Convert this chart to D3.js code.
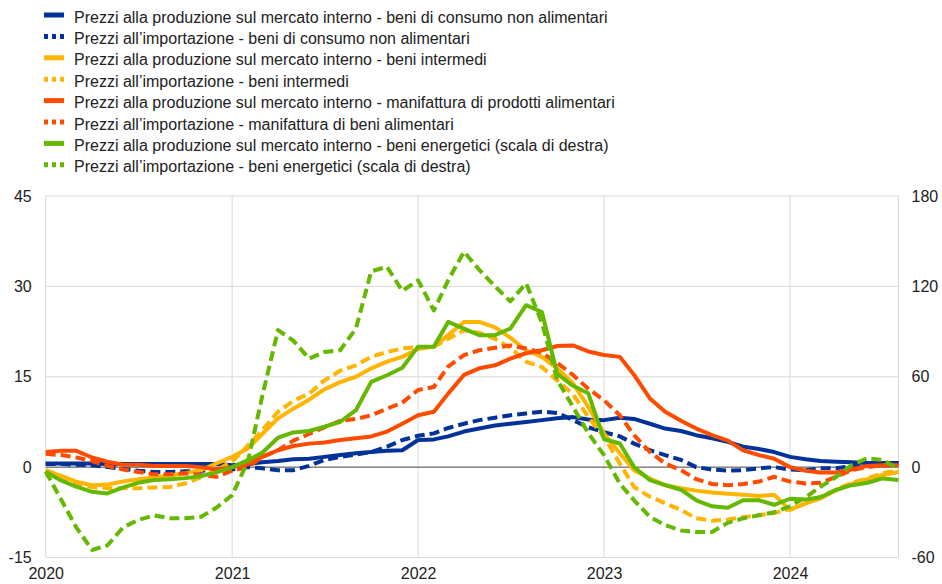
<!DOCTYPE html>
<html>
<head>
<meta charset="utf-8">
<script src="https://cdn.jsdelivr.net/npm/d3@7"></script>
<style>
body { margin: 0; background: #fff; }
text { font-family: Arial, "Liberation Sans", sans-serif; fill: #222; }
</style>
</head>
<body>
<svg id="chart" width="942" height="584"></svg>
<script>
// monthly, Jan 2020 - Aug 2024
var months = d3.timeMonth.range(new Date(2020, 0, 1), new Date(2024, 8, 1));
var yearLabels = ["2020", "2021", "2022", "2023", "2024"];
var leftTicks = [-15, 0, 15, 30, 45];
var rightTicks = [-60, 0, 60, 120, 180];

var labels = [
    "Prezzi alla produzione sul mercato interno - beni di consumo non alimentari",
    "Prezzi all\u2019importazione - beni di consumo non alimentari",
    "Prezzi alla produzione sul mercato interno - beni intermedi",
    "Prezzi all\u2019importazione - beni intermedi",
    "Prezzi alla produzione sul mercato interno - manifattura di prodotti alimentari",
    "Prezzi all\u2019importazione - manifattura di beni alimentari",
    "Prezzi alla produzione sul mercato interno - beni energetici (scala di destra)",
    "Prezzi all\u2019importazione - beni energetici (scala di destra)"
];

var ppiConsumo = [0.6,0.6,0.6,0.6,0.5,0.5,0.5,0.5,0.5,0.5,0.5,0.5,
    0.3,0.5,0.8,1.0,1.3,1.4,1.7,2.0,2.3,2.5,2.7,2.8,
    4.5,4.6,5.1,5.9,6.4,6.9,7.2,7.5,7.8,8.1,8.3,7.9,
    7.8,8.2,8.0,7.2,6.4,6.0,5.3,4.8,4.2,3.4,3.0,2.5,
    1.7,1.3,1.0,0.9,0.8,0.7,0.7,0.7];
var impConsumo = [0.5,0.5,0.4,0.3,0.0,-0.3,-0.6,-0.8,-0.8,-0.7,-0.6,-0.5,
    -0.4,0.0,-0.2,-0.5,-0.5,0.2,1.2,1.7,2.1,2.5,3.4,4.5,
    5.2,5.6,6.5,7.2,7.8,8.2,8.6,8.9,9.2,9.0,7.8,6.6,
    5.8,5.1,3.9,2.8,2.0,1.2,0.0,-0.4,-0.6,-0.5,-0.2,0.0,
    -0.4,-0.5,-0.2,-0.2,0.2,0.4,0.6,0.6];
var ppiInterm = [-0.6,-1.5,-2.4,-3.0,-2.9,-2.4,-2.0,-1.7,-1.4,-1.0,-0.5,0.6,
    1.7,3.1,5.5,8.1,9.7,11.2,12.9,14.1,15.0,16.4,17.5,18.3,
    19.6,20.0,21.9,24.1,24.1,23.2,21.5,19.4,18.3,16.4,13.9,10.0,
    5.6,2.3,-0.5,-1.9,-3.0,-3.5,-3.9,-4.2,-4.4,-4.6,-4.8,-4.6,
    -7.1,-6.0,-5.2,-3.8,-2.8,-2.0,-1.3,-0.8];
var impInterm = [-0.5,-1.5,-2.7,-3.3,-3.5,-3.5,-3.5,-3.4,-3.3,-2.7,-1.7,-0.5,
    0.9,3.6,6.1,9.2,11.0,12.2,14.4,16.0,16.9,18.3,19.1,19.7,
    19.9,20.0,21.3,22.7,22.3,21.3,19.8,17.5,16.6,14.4,12.1,8.3,
    5.0,0.6,-3.3,-4.9,-6.0,-7.1,-8.5,-8.9,-8.7,-8.3,-8.0,-7.6,
    -7.0,-6.0,-4.9,-3.7,-2.6,-1.9,-1.0,-0.5];
var ppiFood = [2.5,2.7,2.7,1.6,0.9,0.4,0.4,0.2,0.2,0.2,0.0,-0.4,
    0.0,0.5,1.7,2.8,3.5,3.9,4.1,4.5,4.8,5.1,5.9,7.2,
    8.6,9.2,12.2,15.3,16.4,16.9,18.0,18.9,19.4,20.1,20.2,19.2,
    18.6,18.3,15.3,11.4,9.2,7.7,6.4,5.3,4.4,2.8,2.0,1.4,
    0.0,-0.6,-0.9,-0.9,-0.4,0.2,0.3,0.3];
var impFood = [2.2,2.0,1.6,1.0,0.2,-0.4,-0.8,-1.2,-1.2,-1.0,-1.3,-1.6,
    -0.6,0.0,1.7,2.8,4.4,5.5,6.6,7.7,8.0,8.6,9.7,10.7,
    12.8,13.3,16.7,18.6,19.4,19.8,20.2,19.7,19.0,17.3,15.3,13.0,
    11.1,8.6,5.3,2.5,0.6,-0.5,-2.0,-2.8,-3.0,-2.8,-2.4,-1.6,
    -2.4,-2.7,-2.6,-1.6,-0.5,0.0,0.3,0.3];
// right scale
var ppiEnergy = [-3,-9,-13,-16.4,-17.5,-13.5,-10.4,-8.6,-8,-7.3,-6,-3.5,
    0,4.6,9.5,19.5,23,24,26.8,30,37.8,56.6,61,66,
    80,80,96.4,92,87.6,87.6,92,107.5,103,62,54,49,
    18.5,15.7,0,-8.6,-12,-15,-22,-26,-27,-22,-22,-25,
    -21,-21.5,-20,-15,-12,-10.4,-7.5,-8.6];
var impEnergy = [-3,-22,-40,-55,-52,-40,-35,-32,-34,-34,-33,-27,
    -18.6,4,47,91,84,72,76.5,77.6,92,130,133,117,
    124,104,124,143,131,120,110,122,96,58,40,22.5,
    8,-11,-22,-33,-38.5,-42,-43,-43,-37,-34,-32,-30,
    -26,-20,-13,-6.4,1.3,6,4.6,-1];

var series = [
    {name: labels[0], values: ppiConsumo, color: "#003299", dashed: false, right: false},
    {name: labels[1], values: impConsumo, color: "#003299", dashed: true, right: false},
    {name: labels[2], values: ppiInterm, color: "#ffb400", dashed: false, right: false},
    {name: labels[3], values: impInterm, color: "#ffb400", dashed: true, right: false},
    {name: labels[4], values: ppiFood, color: "#ff4b00", dashed: false, right: false},
    {name: labels[5], values: impFood, color: "#ff4b00", dashed: true, right: false},
    {name: labels[6], values: ppiEnergy, color: "#65b800", dashed: false, right: true},
    {name: labels[7], values: impEnergy, color: "#65b800", dashed: true, right: true}
];

var svg = d3.select("#chart");
var plotLeft = 45.7, plotRight = 898.5, plotTop = 196, plotBottom = 557.5;

var x = d3.scaleTime()
    .domain([new Date(2020, 0, 1), new Date(2024, 7, 1)])
    .range([plotLeft, plotRight]);
var yL = d3.scaleLinear().domain([-15, 45]).range([plotBottom, plotTop]);
var yR = d3.scaleLinear().domain([-60, 180]).range([plotBottom, plotTop]);

var yearDates = yearLabels.map(function(d) { return new Date(+d, 0, 1); });

// grid
var grid = svg.append("g");
grid.selectAll("line.h")
    .data(leftTicks.filter(function(d) { return d !== 0; }))
    .enter().append("line")
    .attr("x1", plotLeft).attr("x2", plotRight)
    .attr("y1", function(d) { return yL(d); })
    .attr("y2", function(d) { return yL(d); })
    .attr("stroke", "#d9d9d9").attr("stroke-width", 1);
grid.selectAll("line.v")
    .data(yearDates)
    .enter().append("line")
    .attr("x1", function(d) { return x(d); })
    .attr("x2", function(d) { return x(d); })
    .attr("y1", plotTop).attr("y2", plotBottom)
    .attr("stroke", "#d9d9d9").attr("stroke-width", 1);
grid.append("line")
    .attr("x1", plotRight).attr("x2", plotRight)
    .attr("y1", plotTop).attr("y2", plotBottom)
    .attr("stroke", "#d9d9d9");
grid.append("line")
    .attr("x1", plotLeft).attr("x2", plotRight)
    .attr("y1", yL(0)).attr("y2", yL(0))
    .attr("stroke", "#404040").attr("stroke-width", 1);

// axes (labels only), plain hyphen for negatives like the original
var plain = function(d) { return String(d); };
function styleAxis(g) {
    g.select(".domain").remove();
    g.selectAll("text").style("font-size", "16px").attr("fill", "#222");
}
svg.append("g").attr("transform", "translate(" + plotLeft + ",0)")
    .call(d3.axisLeft(yL).tickValues(leftTicks).tickFormat(plain).tickSize(0).tickPadding(14))
    .call(styleAxis);
svg.append("g").attr("transform", "translate(" + plotRight + ",0)")
    .call(d3.axisRight(yR).tickValues(rightTicks).tickFormat(plain).tickSize(0).tickPadding(13))
    .call(styleAxis);
svg.append("g").attr("transform", "translate(0," + plotBottom + ")")
    .call(d3.axisBottom(x).tickValues(yearDates).tickSize(0).tickPadding(10)
        .tickFormat(d3.timeFormat("%Y")))
    .call(styleAxis);
svg.selectAll(".tick text").attr("font-family", "Arial, 'Liberation Sans', sans-serif");

// lines
series.forEach(function(s) {
    var y = s.right ? yR : yL;
    var line = d3.line()
        .x(function(d, i) { return x(months[i]); })
        .y(function(d) { return y(d); });
    svg.append("path")
        .datum(s.values)
        .attr("d", line)
        .attr("fill", "none")
        .attr("stroke", s.color)
        .attr("stroke-width", 4)
        .attr("stroke-linejoin", "round")
        .attr("stroke-dasharray", s.dashed ? "10,5" : null);
});

// legend
var rows = svg.append("g").selectAll("g")
    .data(series)
    .enter().append("g")
    .attr("transform", function(d, i) { return "translate(0," + (17 + i * 21.4) + ")"; });
rows.append("line")
    .attr("x1", 44).attr("x2", 64)
    .attr("y1", -2).attr("y2", -2)
    .attr("stroke", function(d) { return d.color; })
    .attr("stroke-width", 5)
    .attr("stroke-dasharray", function(d) { return d.dashed ? "4,4" : null; });
rows.append("text")
    .attr("x", 74).attr("y", 0)
    .attr("dy", "0.35em")
    .style("font-size", "16px")
    .text(function(d) { return d.name; });
</script>
</body>
</html>
